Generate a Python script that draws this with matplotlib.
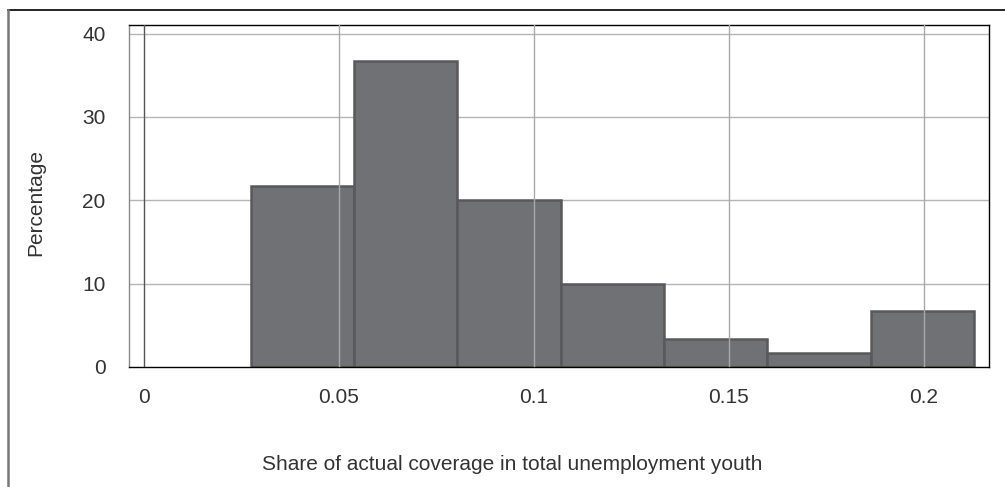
import matplotlib
matplotlib.use("Agg")
import matplotlib.pyplot as plt
from matplotlib.lines import Line2D

plt.rcParams['font.family'] = ['Liberation Sans', 'DejaVu Sans']

# histogram bins (left edges) and bar heights (percent)
bin_lefts = [0.0274, 0.0539, 0.0804, 0.1069, 0.1334, 0.1599, 0.1864]
bin_width = 0.0265
percentages = [21.67, 36.67, 20.0, 10.0, 3.33, 1.67, 6.67]

x_ticks = [0, 0.05, 0.1, 0.15, 0.2]
x_tick_labels = ['0', '0.05', '0.1', '0.15', '0.2']
y_ticks = [0, 10, 20, 30, 40]

text_col = '#333333'

fig = plt.figure(figsize=(10.05, 4.87), dpi=100)
ax = fig.add_axes([129/1005, 1 - 367/487, (989-129)/1005, (367-24.5)/487])

# horizontal grid behind the bars
for y in y_ticks[1:]:
    ax.axhline(y, color='#b5b5b5', lw=1, zorder=0)

ax.bar(bin_lefts, percentages, width=bin_width, align='edge',
       color='#707175', edgecolor='#59595b', linewidth=1.8, zorder=2)

# vertical grid drawn over the bars
for x in x_ticks[1:]:
    ax.axvline(x, color='#a9a9a9', lw=1, zorder=3)
ax.axvline(0, color='#555555', lw=1, zorder=3)

ax.set_xlim(-0.0039, 0.2168)
ax.set_ylim(0, 41.1)
ax.set_xticks(x_ticks)
ax.set_xticklabels(x_tick_labels)
ax.set_yticks(y_ticks)
ax.tick_params(axis='both', length=0, labelsize=15, labelcolor=text_col)
ax.tick_params(axis='x', pad=15)
ax.tick_params(axis='y', pad=17)

for side in ['top', 'right', 'bottom']:
    ax.spines[side].set_color('black')
    ax.spines[side].set_linewidth(1)
ax.spines['left'].set_color('#888888')
ax.spines['left'].set_linewidth(1)

fig.text(512/1005, 1 - 465/487, 'Share of actual coverage in total unemployment youth',
         ha='center', va='center', fontsize=15, color=text_col)
fig.text(36/1005, 1 - 203/487, 'Percentage', rotation=90,
         ha='center', va='center', fontsize=15, color=text_col)

# outer frame (top and left only)
fig.add_artist(Line2D([8/1005, 1], [1 - 10/487, 1 - 10/487], color='black', lw=1.2,
                      transform=fig.transFigure))
fig.add_artist(Line2D([8/1005, 8/1005], [0, 1 - 10/487], color='#777777', lw=1.8,
                      transform=fig.transFigure))

fig.savefig('out.png', dpi=100)
